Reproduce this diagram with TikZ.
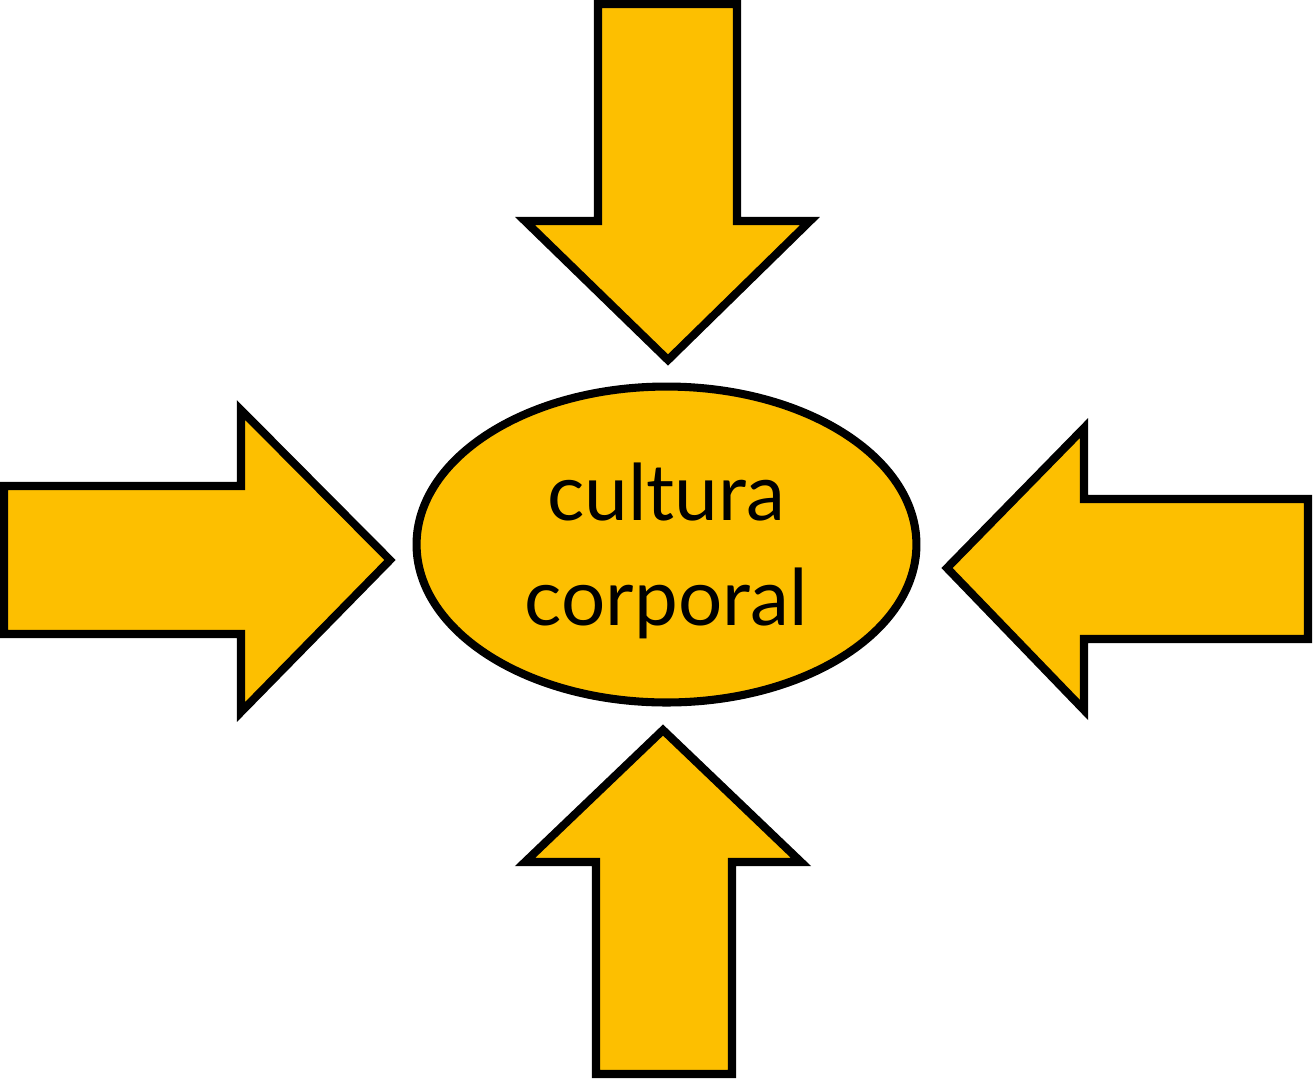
\documentclass[tikz,border=0pt]{standalone}
\usepackage{fontspec}
\setmainfont{Lato}
\usetikzlibrary{shapes.geometric}
\definecolor{gold}{HTML}{FDBF00}

\begin{document}
\begin{tikzpicture}[x=0.02cm, y=-0.02cm,
  every node/.style={font=\fontsize{44.5}{60}\selectfont},
  block/.style={draw=black, fill=gold, line width=4.6pt, line join=miter},
  core/.style={ellipse, draw=black, fill=gold, line width=4.6pt,
               minimum width=10cm, minimum height=6.32cm, inner sep=0pt},
  caption/.style={align=center, inner sep=0pt},
]
\useasboundingbox (0,0) rectangle (1313,1080);
\node[core] (C) at (666.5,544.5) {};
\node[caption] (T) at (666,551) {cultura\\corporal};

% block arrows pointing in
\draw[block] (598,4) -- (737,4) -- (737,221) -- (810,221) -- (668,360)
  -- (525,221) -- (598,221) -- cycle;
\draw[block] (4,486) -- (241,486) -- (241,410) -- (390,560)
  -- (241,712) -- (241,634) -- (4,634) -- cycle;
\draw[block] (1308,499) -- (1084,499) -- (1084,428) -- (947,568)
  -- (1084,710) -- (1084,639) -- (1308,639) -- cycle;
\draw[block] (596,1074) -- (596,862) -- (525,862) -- (663,730)
  -- (801,862) -- (732,862) -- (732,1074) -- cycle;
\end{tikzpicture}
\end{document}
